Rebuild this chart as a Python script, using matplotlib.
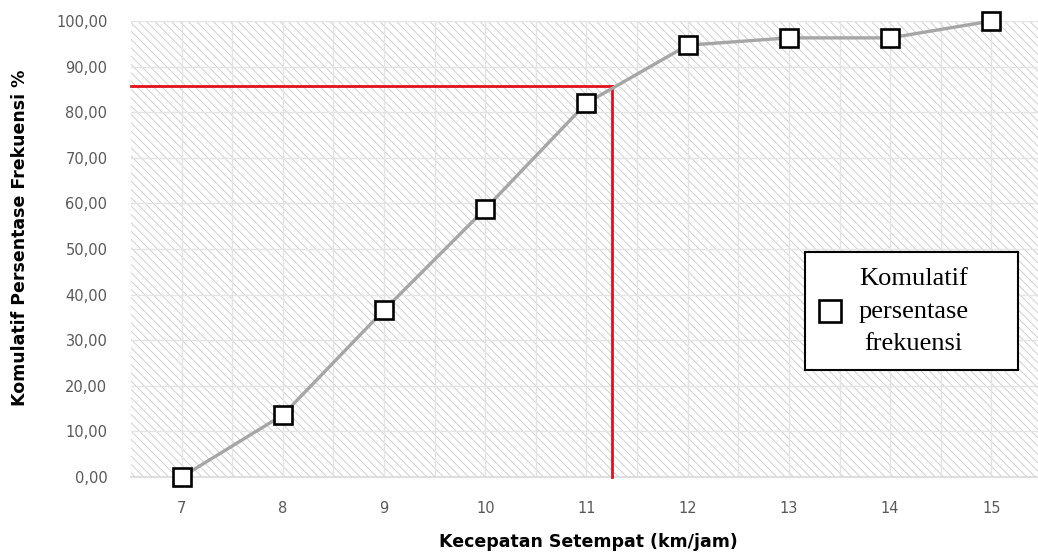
import matplotlib.pyplot as plt
from matplotlib.patches import Rectangle
from matplotlib.ticker import FuncFormatter

# datos
kecepatan = [7, 8, 9, 10, 11, 12, 13, 14, 15]
komulatif = [0.0, 13.6, 36.6, 58.8, 82.0, 94.7, 96.3, 96.3, 100.0]
v85 = 11.25     # kecepatan persentil 85
p85 = 85.7

plt.rcParams["hatch.linewidth"] = 0.6

fig = plt.figure(figsize=(10.38, 5.57), dpi=100)
ax = fig.add_axes([0.1262, 0.1436, 0.8776, 0.8187])

# fondo rayado
ax.add_patch(Rectangle((0, 0), 1, 1, transform=ax.transAxes, facecolor="white",
                       edgecolor="#c8c8c8", hatch="\\\\\\\\", lw=0, zorder=0))

ax.set_xlim(6.5, 15.5)
ax.set_ylim(0, 100)
ax.set_xticks(kecepatan)
ax.set_xticks([k + 0.5 for k in kecepatan], minor=True)
ax.set_yticks(range(0, 101, 10))
ax.yaxis.set_major_formatter(FuncFormatter(lambda v, p: f"{v:.2f}".replace(".", ",")))
ax.grid(True, which="both", axis="x", color="#e4e4e4", lw=1.0, zorder=1)
ax.grid(True, which="major", axis="y", color="#e4e4e4", lw=1.0, zorder=1)
ax.tick_params(which="both", length=0, labelsize=10.5, labelcolor="#595959")
ax.tick_params(axis="y", pad=17)
ax.tick_params(axis="x", pad=17)
for s in ["top", "right", "left"]:
    ax.spines[s].set_visible(False)
ax.spines["bottom"].set_color("#d9d9d9")
ax.spines["bottom"].set_linewidth(1.2)

# garis persentil 85
ax.plot([6.5, v85], [p85, p85], color="#e3101a", lw=2.0, zorder=3, clip_on=False)
ax.plot([v85, v85], [p85, 0], color="#e3101a", lw=2.0, zorder=3, clip_on=False)

ax.plot(kecepatan, komulatif, color="#a6a6a6", lw=2.4, marker="s", markersize=13,
        markerfacecolor="white", markeredgecolor="black", markeredgewidth=1.9,
        label="Komulatif\npersentase\nfrekuensi", zorder=4, clip_on=False)

ax.set_xlabel("Kecepatan Setempat (km/jam)", fontsize=12.5, fontweight="bold", va="center")
ax.set_ylabel("Komulatif Persentase Frekuensi %", fontsize=12.5, fontweight="bold", va="center")
ax.xaxis.set_label_coords(0.502, -0.1425)
ax.yaxis.set_label_coords(-0.122, 0.524)

# kotak legenda
ax.add_patch(Rectangle((0.740, 0.235), 0.234, 0.258, transform=ax.transAxes,
                       facecolor="white", edgecolor="black", lw=1.5, zorder=5))
leg = ax.legend(loc="center left", bbox_to_anchor=(0.754, 0.362), frameon=False,
                prop={"family": "Liberation Serif", "size": 19},
                markerscale=1.25, handlelength=0.9, handletextpad=0.63,
                borderpad=0, borderaxespad=0, labelspacing=0.3)
leg.set_zorder(6)
for t in leg.get_texts():
    t.set_multialignment("center")
    t.set_linespacing(1.62)
for h in leg.legend_handles:
    h.set_linestyle("none")

fig.savefig("out.png", dpi=100)
